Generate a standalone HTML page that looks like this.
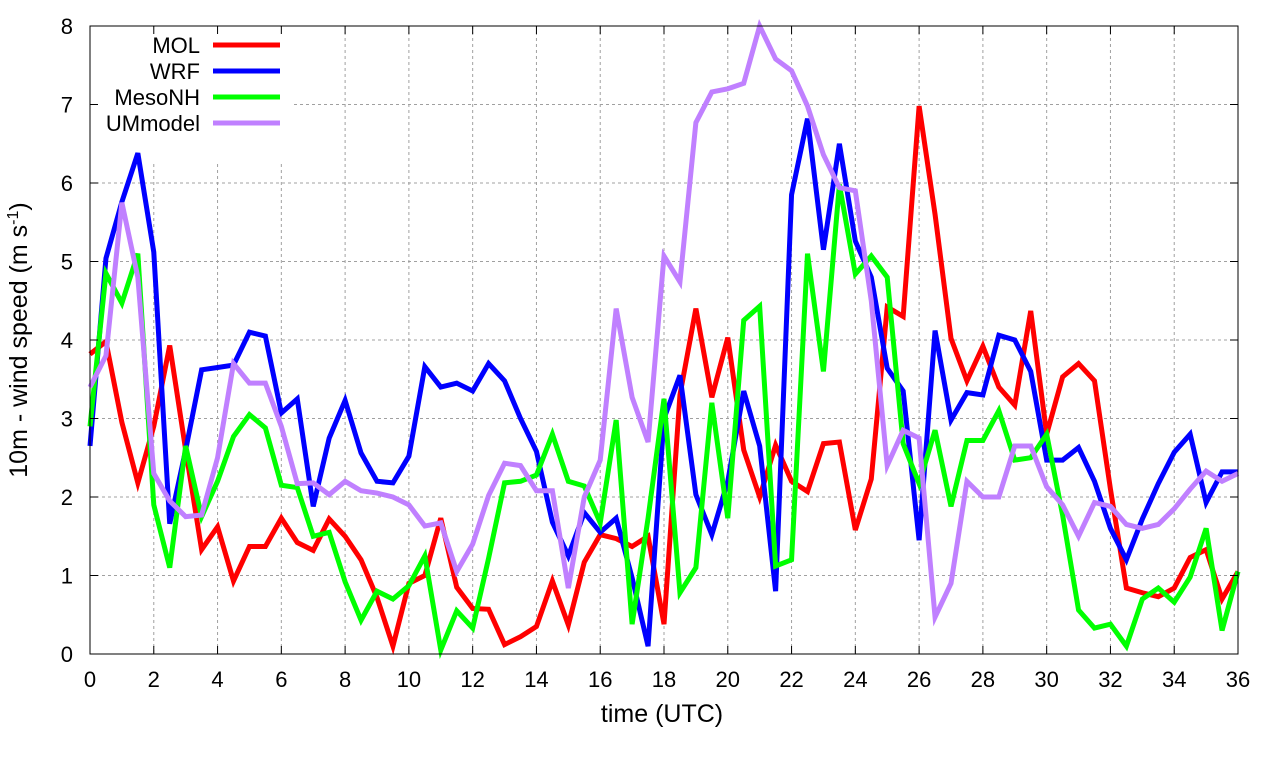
<!DOCTYPE html>
<html><head><meta charset="utf-8"><style>
body{margin:0;background:#fff;}
svg{display:block;font-family:"Liberation Sans",sans-serif;}
</style></head><body>
<svg id="chart" width="1280" height="760">
<g id="grid"></g>
<rect x="91" y="27" width="200" height="136" fill="#fff"/>
<g id="series"></g>
<g id="legend"></g>
<rect x="90" y="26" width="1148" height="628" fill="none" stroke="#000" stroke-width="1"/>
<g id="ticks"></g>
<text x="662" y="722" font-size="25" text-anchor="middle">time (UTC)</text>
<text transform="translate(27,340) rotate(-90)" font-size="25" text-anchor="middle">10m - wind speed  (m s<tspan font-size="16" dy="-9">-1</tspan><tspan dy="9">)</tspan></text>
</svg>
<script>
const times = [];
for (let i = 0; i <= 72; i++) times.push(i / 2);
const seriesNames = ["MOL", "WRF", "MesoNH", "UMmodel"];
const seriesColors = ["#ff0000", "#0000ff", "#00ff00", "#c080ff"];
const mol = [3.82,3.98,2.95,2.18,2.9,3.93,2.6,1.33,1.62,0.93,1.37,1.37,1.73,1.42,1.32,1.72,1.5,1.2,0.72,0.1,0.9,1.0,1.73,0.85,0.58,0.57,0.12,0.22,0.35,0.93,0.37,1.17,1.52,1.47,1.37,1.5,0.38,3.3,4.4,3.27,4.03,2.6,2.0,2.66,2.2,2.07,2.68,2.7,1.58,2.23,4.42,4.3,6.98,5.6,4.02,3.48,3.92,3.4,3.17,4.37,2.8,3.53,3.7,3.48,2.1,0.84,0.78,0.73,0.84,1.23,1.33,0.7,1.05];
const wrf = [2.65,5.04,5.76,6.38,5.12,1.66,2.6,3.62,3.65,3.68,4.1,4.05,3.07,3.25,1.88,2.75,3.23,2.56,2.2,2.18,2.52,3.66,3.4,3.45,3.35,3.7,3.48,3.0,2.58,1.68,1.25,1.8,1.55,1.73,0.97,0.1,3.0,3.55,2.03,1.52,2.2,3.35,2.65,0.8,5.85,6.82,5.15,6.5,5.26,4.8,3.64,3.35,1.45,4.12,2.98,3.33,3.3,4.06,4.0,3.6,2.47,2.47,2.63,2.2,1.6,1.2,1.72,2.17,2.57,2.8,1.93,2.32,2.32];
const mesonh = [2.9,4.85,4.47,5.1,1.9,1.1,2.65,1.75,2.2,2.77,3.05,2.88,2.15,2.12,1.5,1.55,0.92,0.43,0.8,0.7,0.87,1.25,0.05,0.55,0.33,1.22,2.18,2.2,2.28,2.8,2.2,2.14,1.67,2.98,0.38,1.73,3.25,0.78,1.1,3.2,1.73,4.25,4.43,1.12,1.2,5.1,3.6,5.98,4.84,5.07,4.8,2.68,2.17,2.85,1.88,2.72,2.72,3.1,2.47,2.5,2.8,1.77,0.56,0.33,0.38,0.1,0.7,0.84,0.66,0.98,1.6,0.3,1.05];
const ummodel = [3.4,3.8,5.75,4.8,2.3,1.95,1.75,1.77,2.5,3.7,3.45,3.45,2.9,2.17,2.18,2.03,2.2,2.08,2.05,2.0,1.9,1.63,1.67,1.05,1.4,2.02,2.43,2.4,2.08,2.08,0.84,2.0,2.47,4.4,3.27,2.7,5.07,4.74,6.77,7.16,7.2,7.27,8.0,7.58,7.43,6.98,6.36,5.94,5.9,4.5,2.4,2.85,2.75,0.47,0.9,2.2,2.0,2.0,2.65,2.65,2.13,1.9,1.5,1.93,1.88,1.65,1.6,1.65,1.85,2.1,2.33,2.2,2.3];
const allSeries = [mol, wrf, mesonh, ummodel];
const xTicks = [0,2,4,6,8,10,12,14,16,18,20,22,24,26,28,30,32,34,36];
const yTicks = [0,1,2,3,4,5,6,7,8];

const X0=90, X1=1238, Y0=654, Y1=26;
const xs = t => X0 + (t/36)*(X1-X0);
const ys = v => Y0 - (v/8)*(Y0-Y1);
const NS="http://www.w3.org/2000/svg";
function mk(tag, parent){const e=document.createElementNS(NS,tag);parent.appendChild(e);return e;}
const grid=document.getElementById('grid'), ticks=document.getElementById('ticks');
xTicks.forEach(t=>{
  const l=mk('line',grid);
  
  
  l.setAttribute('x1',xs(t));l.setAttribute('x2',xs(t));l.setAttribute('y1',Y1);l.setAttribute('y2',Y0);
  l.setAttribute('stroke','#a0a0a0');l.setAttribute('stroke-dasharray','3,3');
  const tk=mk('text',ticks);
  
  
  tk.setAttribute('x',xs(t));tk.setAttribute('y',687);tk.setAttribute('font-size','22');tk.setAttribute('text-anchor','middle');
  tk.textContent=t;
  const m=mk('path',ticks);
  
  
  m.setAttribute('d',`M${xs(t)},${Y0}v-8M${xs(t)},${Y1}v8`);m.setAttribute('stroke','#000');
});
yTicks.forEach(v=>{
  const l=mk('line',grid);
  
  
  l.setAttribute('x1',X0);l.setAttribute('x2',X1);l.setAttribute('y1',ys(v));l.setAttribute('y2',ys(v));
  l.setAttribute('stroke','#a0a0a0');l.setAttribute('stroke-dasharray','3,3');
  const tk=mk('text',ticks);
  
  
  tk.setAttribute('x',73);tk.setAttribute('y',ys(v)+8);tk.setAttribute('font-size','22');tk.setAttribute('text-anchor','end');
  tk.textContent=v;
  const m=mk('path',ticks);
  
  
  m.setAttribute('d',`M${X0},${ys(v)}h8M${X1},${ys(v)}h-8`);m.setAttribute('stroke','#000');
});
const sg=document.getElementById('series'), lg=document.getElementById('legend');
allSeries.forEach((arr,i)=>{
  const p=mk('polyline',sg);
  
  
  p.setAttribute('points',arr.map((v,j)=>xs(times[j])+','+ys(v)).join(' '));
  p.setAttribute('fill','none');p.setAttribute('stroke',seriesColors[i]);p.setAttribute('stroke-width','5');p.setAttribute('stroke-linejoin','miter');
  const ly=45+i*26;
  const t=mk('text',lg);
  
  
  t.setAttribute('x',200);t.setAttribute('y',ly+8);t.setAttribute('font-size','22');t.setAttribute('text-anchor','end');
  t.textContent=seriesNames[i];
  const l=mk('line',lg);
  
  
  l.setAttribute('x1',213);l.setAttribute('x2',280);l.setAttribute('y1',ly);l.setAttribute('y2',ly);
  l.setAttribute('stroke',seriesColors[i]);l.setAttribute('stroke-width','5');
});
</script>
</body></html>
